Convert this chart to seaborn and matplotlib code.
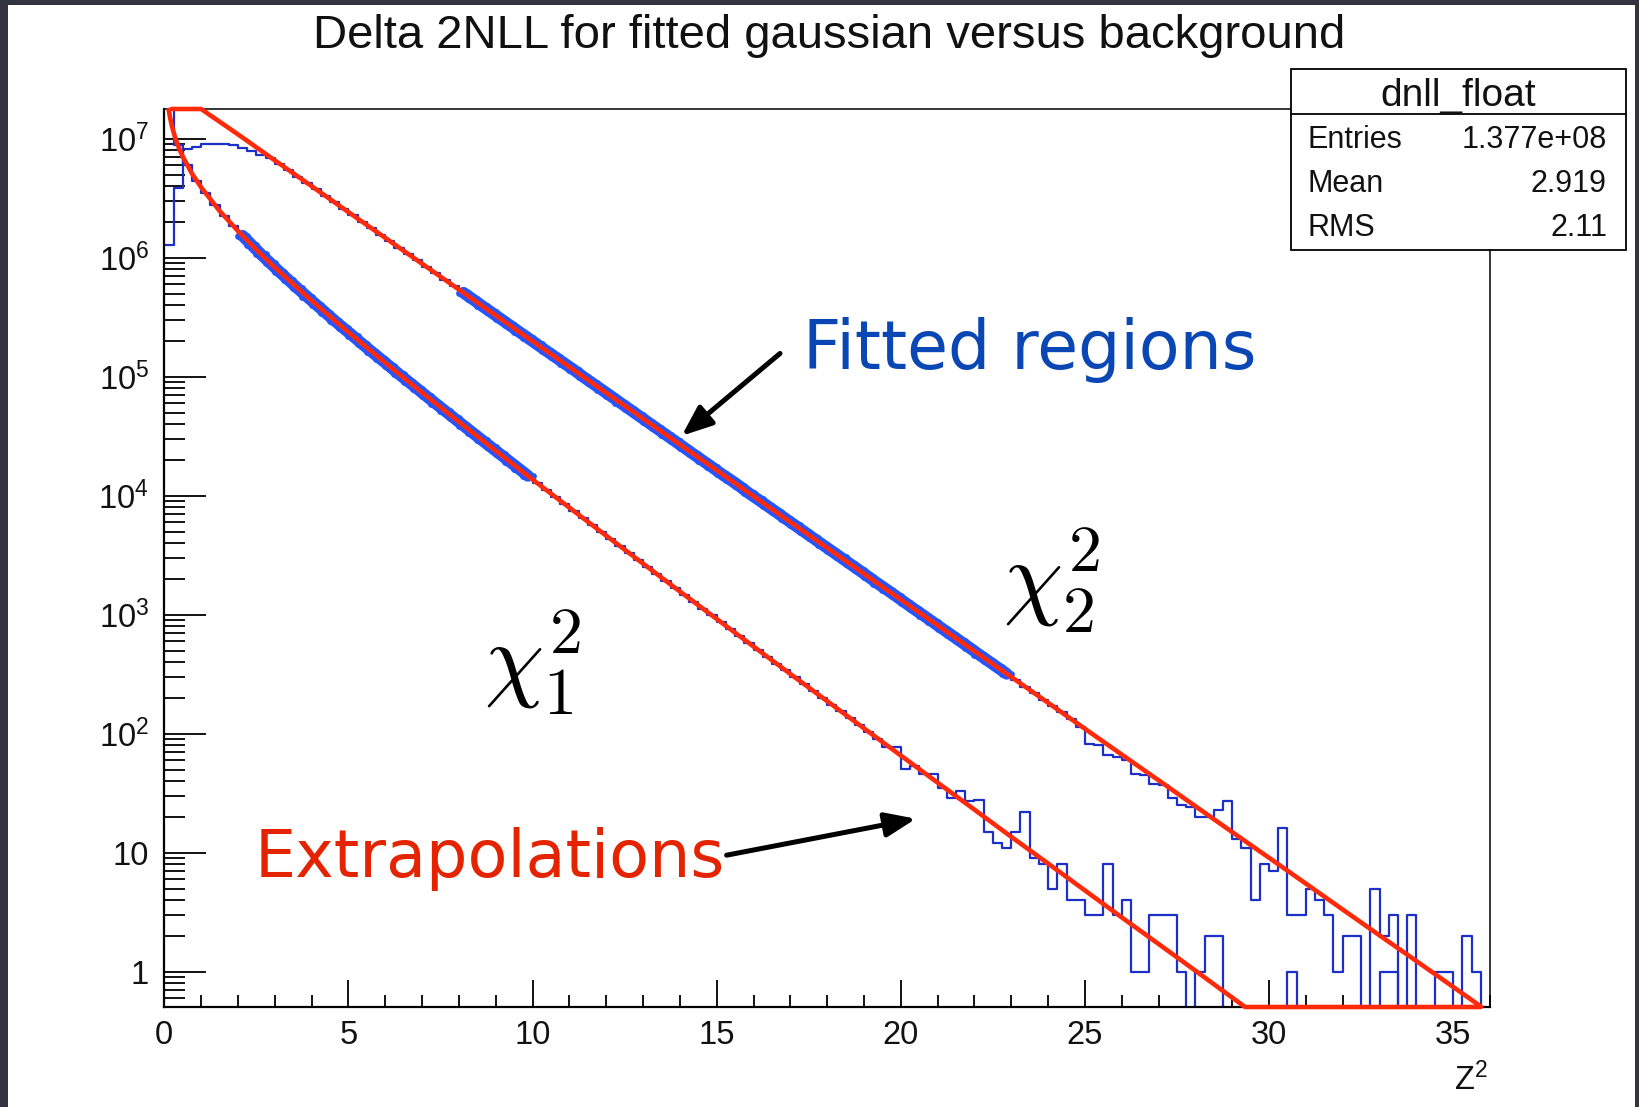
import numpy as np
import pandas as pd
import matplotlib
matplotlib.use("Agg")
import matplotlib.pyplot as plt
from matplotlib.patches import Rectangle
from matplotlib.lines import Line2D
from matplotlib.ticker import (MultipleLocator, LogLocator, FixedLocator,
                               FuncFormatter, NullFormatter)
import seaborn as sns

# ---------------------------------------------------------------- data
# histogram binning: 144 bins over [0, 36]
bin_edges = np.linspace(0.0, 36.0, 145)

# delta-2NLL with floating gaussian (upper distribution), counts per bin
upper_counts = [
    1.29e6, 3.89e6, 8.13e6, 8.61e6, 9.02e6, 9.10e6, 9.05e6, 8.95e6, 8.32e6, 7.83e6,
    7.35e6, 6.92e6, 6.19e6, 5.46e6, 4.82e6, 4.26e6, 3.75e6, 3.31e6, 2.92e6, 2.58e6,
    2.28e6, 2.01e6, 1.77e6, 1.56e6, 1.38e6, 1.22e6, 1.08e6, 9.49e5, 8.37e5, 7.40e5,
    6.53e5, 5.75e5, 5.08e5, 4.49e5, 3.95e5, 3.49e5, 3.08e5, 2.72e5, 2.40e5, 2.12e5,
    1.87e5, 1.65e5, 1.46e5, 1.29e5, 1.14e5, 1.00e5, 8.83e4, 7.80e4, 6.89e4, 6.07e4,
    5.36e4, 4.73e4, 4.17e4, 3.68e4, 3.25e4, 2.87e4, 2.53e4, 2.23e4, 1.97e4, 1.74e4,
    1.53e4, 1.36e4, 1.20e4, 1.05e4, 9310, 8220, 7260, 6400, 5650, 4990,
    4400, 3880, 3430, 3030, 2670, 2360, 2080, 1830, 1620, 1430,
    1260, 1110, 982, 867, 764, 675, 596, 526, 463, 409,
    361, 319, 281, 248, 219, 193, 171, 151, 133, 114,
    82, 80, 66, 64, 60, 46, 45, 38, 37, 29,
    25, 24, 20, 20, 23, 27, 13, 11, 4, 8,
    7, 16, 3, 3, 5, 4, 3, 1, 2, 2,
    0, 5, 2, 3, 0, 3, 0, 0, 1, 1,
    0, 2, 1, 0,
]

# delta-2NLL with fixed gaussian (lower distribution), counts per bin
lower_counts = [
    2.40e7, 8.85e6, 5.98e6, 4.46e6, 3.47e6, 2.77e6, 2.24e6, 1.84e6, 1.53e6, 1.28e6,
    1.07e6, 9.04e5, 7.64e5, 6.49e5, 5.52e5, 4.72e5, 4.04e5, 3.46e5, 2.96e5, 2.55e5,
    2.20e5, 1.89e5, 1.63e5, 1.41e5, 1.22e5, 1.05e5, 9.12e4, 7.91e4, 6.85e4, 5.94e4,
    5.16e4, 4.48e4, 3.89e4, 3.38e4, 2.94e4, 2.56e4, 2.23e4, 1.94e4, 1.69e4, 1.47e4,
    1.28e4, 1.12e4, 9750, 8510, 7430, 6490, 5660, 4940, 4320, 3770,
    3300, 2880, 2520, 2200, 1920, 1680, 1470, 1290, 1120, 986,
    863, 755, 661, 578, 507, 444, 388, 340, 298, 261,
    229, 200, 176, 154, 135, 118, 104, 91, 77, 77,
    51, 54, 46, 46, 35, 29, 33, 27, 28, 15,
    12, 11, 15, 22, 9, 8, 5, 8, 4, 4,
    3, 3, 8, 3, 4, 1, 1, 3, 3, 3,
    1, 0, 1, 2, 2, 0, 0, 0, 0, 0,
    0, 0, 1, 0, 0, 0, 0, 0, 0, 0,
    0, 0, 1, 1, 0, 0, 0, 0, 0, 0,
    0, 0, 0, 0,
]

# ranges used for the fits
upper_fit_range = (8.0, 23.0)
lower_fit_range = (2.0, 10.0)

# fitted chi2(2 dof) curve over the upper distribution
upper_fit_x = [0.2, 1, 2, 3, 4, 5, 6, 7, 8, 9, 10, 11, 12, 13, 14, 15, 16, 17, 18,
               19, 20, 21, 22, 23, 24, 25, 26, 27, 28, 29, 30, 31, 32, 33, 34, 35, 35.75]
upper_fit_y = [2.67e7, 1.79e7, 1.09e7, 6.59e6, 4.00e6, 2.42e6, 1.47e6, 8.91e5, 5.41e5,
               3.28e5, 1.99e5, 1.21e5, 7.33e4, 4.45e4, 2.70e4, 1.64e4, 9910, 6010, 3650,
               2210, 1340, 815, 494, 300, 182, 110, 66.8, 40.6, 24.6, 14.9, 9.06, 5.50,
               3.33, 2.02, 1.23, 0.745, 0.51]

# fitted chi2(1 dof) curve over the lower distribution
lower_fit_x = [0.12, 0.15, 0.2, 0.3, 0.4, 0.5, 0.75, 1, 1.5, 2, 2.5, 3,
               4, 5, 6, 7, 8, 9, 10, 11, 12, 13, 14, 15, 16, 17, 18, 19, 20, 21,
               22, 23, 24, 25, 26, 27, 28, 29, 29.35, 30, 32, 34, 35.75]
lower_fit_y = [1.75e7, 1.54e7, 1.30e7, 1.01e7, 8.34e6, 7.10e6, 5.11e6, 3.91e6, 2.48e6,
               1.68e6, 1.17e6, 8.30e5,
               4.36e5, 2.37e5, 1.31e5, 7.36e4, 4.18e4, 2.39e4, 1.37e4, 7940, 4620, 2690,
               1570, 922, 541, 318, 188, 111, 65.6, 38.8, 23.0, 13.6, 8.11, 4.82, 2.86,
               1.71, 1.02, 0.605, 0.505, 0.36, 0.13, 0.05, 0.02]

# statistics box entries
stats_name = "dnll_float"
stats_rows = [("Entries", "1.377e+08"), ("Mean", "2.919"), ("RMS", "2.11")]

title = "Delta 2NLL for fitted gaussian versus background"
y_decades = [1, 1e1, 1e2, 1e3, 1e4, 1e5, 1e6, 1e7]

# ---------------------------------------------------------------- style
W, H = 1639, 1107
Y_MIN, Y_MAX = 0.505, 1.78e7
HIST_BLUE = "#1c2fc8"
BAND_BLUE = "#2356ff"
FIT_RED = "#ff2a0a"
SLIDE_GRAY = "#32353f"

sns.set_style("ticks")
plt.rcParams["font.family"] = ["Liberation Sans", "DejaVu Sans"]
plt.rcParams["mathtext.fontset"] = "custom"
plt.rcParams["mathtext.rm"] = "Liberation Sans"
plt.rcParams["mathtext.it"] = "Liberation Sans:italic"
plt.rcParams["mathtext.bf"] = "Liberation Sans:bold"

fig = plt.figure(figsize=(W / 100, H / 100), dpi=100, facecolor=SLIDE_GRAY)
# white canvas inside the dark slide border
fig.add_artist(Rectangle((8 / W, 0), (1635 - 8) / W, (H - 5) / H,
                         transform=fig.transFigure, facecolor="white",
                         edgecolor="none", zorder=-5))

ax = fig.add_axes([164.3 / W, 1 - 1007 / H, (1490 - 164.3) / W, (1007 - 109) / H])
ax.set_facecolor("white")

centers = 0.5 * (bin_edges[:-1] + bin_edges[1:])
hist_df = pd.DataFrame({
    "z2": centers,
    "upper": np.asarray(upper_counts, dtype=float),
    "lower": np.asarray(lower_counts, dtype=float),
})

# full histograms, thin outline
for col in ("upper", "lower"):
    sns.histplot(data=hist_df, x="z2", weights=col, bins=list(bin_edges),
                 element="step", fill=False, color=HIST_BLUE, linewidth=1.6, ax=ax)

# fitted ranges drawn as a heavy band
for col, (lo, hi) in (("upper", upper_fit_range), ("lower", lower_fit_range)):
    part = hist_df[(hist_df["z2"] > lo) & (hist_df["z2"] < hi)]
    edges = [e for e in bin_edges if lo - 1e-9 <= e <= hi + 1e-9]
    sns.histplot(data=part, x="z2", weights=col, bins=edges, element="poly",
                 fill=False, color=BAND_BLUE, linewidth=8.5, ax=ax)
    sns.histplot(data=part, x="z2", weights=col, bins=edges, element="step",
                 fill=False, color=BAND_BLUE, linewidth=5.0, ax=ax)

# fit curves, pinned to the frame where they leave the plotted range
for fx, fy in ((upper_fit_x, upper_fit_y), (lower_fit_x, lower_fit_y)):
    sns.lineplot(x=fx, y=np.clip(np.asarray(fy, dtype=float), Y_MIN, Y_MAX),
                 color=FIT_RED, linewidth=3.3, sort=False, estimator=None,
                 legend=False, ax=ax, clip_on=False, zorder=6)

ax.set_yscale("log")
ax.set_xlim(0, 36)
ax.set_ylim(Y_MIN, Y_MAX)
ax.set_xlabel("")
ax.set_ylabel("")

ax.xaxis.set_major_locator(MultipleLocator(5))
ax.xaxis.set_minor_locator(MultipleLocator(1))
ax.yaxis.set_major_locator(FixedLocator(y_decades))
ax.yaxis.set_minor_locator(LogLocator(base=10, subs=np.arange(2, 10), numticks=200))
ax.yaxis.set_minor_formatter(NullFormatter())


def decade_label(v, pos):
    if v < 1.5:
        return "1"
    if v < 15:
        return "10"
    return r"$\mathdefault{10^{%d}}$" % int(round(np.log10(v)))


ax.yaxis.set_major_formatter(FuncFormatter(decade_label))

ax.tick_params(axis="both", which="both", direction="in", top=False, right=False,
               width=1.3, color="black", labelcolor="#111111")
ax.tick_params(axis="x", which="major", length=19.5, pad=9, labelsize=23.5)
ax.tick_params(axis="x", which="minor", length=8.7)
ax.tick_params(axis="y", which="major", length=30, pad=11, labelsize=23.5)
ax.tick_params(axis="y", which="minor", length=15)

for side in ("left", "bottom"):
    ax.spines[side].set_linewidth(1.6)
for side in ("top", "right"):
    ax.spines[side].set_linewidth(1.1)
for sp in ax.spines.values():
    sp.set_color("black")

ax.text(0.9985, (1007 - 1090) / (1007 - 109), r"$\mathdefault{Z^{2}}$",
        transform=ax.transAxes, ha="right", va="baseline", fontsize=23.5,
        color="#111111")

# title
fig.text(829 / W, 1 - 48.5 / H, title, ha="center", va="baseline",
         fontsize=34, color="#111111")

# statistics box
box_l, box_r, box_t, box_b, box_mid = 1291, 1626, 69, 250, 114
fig.add_artist(Rectangle((box_l / W, 1 - box_b / H), (box_r - box_l) / W,
                         (box_b - box_t) / H, transform=fig.transFigure,
                         facecolor="white", edgecolor="black", linewidth=1.3,
                         zorder=10))
fig.add_artist(Line2D([box_l / W, box_r / W], [1 - box_mid / H] * 2,
                      transform=fig.transFigure, color="black", linewidth=1.3,
                      zorder=11))
fig.text((box_l + box_r) / 2 / W, 1 - 106 / H, stats_name, ha="center",
         va="baseline", fontsize=28, color="#111111", zorder=12)
for i, (name, value) in enumerate(stats_rows):
    yb = 1 - (147.5 + 44.0 * i) / H
    fig.text(1307 / W, yb, name, ha="left", va="baseline", fontsize=22,
             color="#111111", zorder=12)
    fig.text(1607 / W, yb, value, ha="right", va="baseline", fontsize=22,
             color="#111111", zorder=12)

# distribution labels
ax.text(24.1, 1.93e3, r"$\chi^2_2$", math_fontfamily="cm", fontsize=68,
        ha="center", va="center", color="black")
ax.text(10.0, 3.96e2, r"$\chi^2_1$", math_fontfamily="cm", fontsize=68,
        ha="center", va="center", color="black")

# call-outs
arrow_kw = dict(arrowstyle="-|>,head_length=0.5,head_width=0.2", color="black",
                lw=3.6, mutation_scale=37, shrinkA=0, shrinkB=0)
ax.text(17.35, 1.16e5, "Fitted regions", family=["DejaVu Sans"], fontsize=48,
        color="#0a46b4", ha="left", va="baseline")
ax.annotate("", xy=(14.05, 3.19e4), xytext=(16.72, 1.57e5),
            arrowprops=arrow_kw)
ax.text(2.46, 6.2, "Extrapolations", family=["DejaVu Sans"], fontsize=47,
        color="#e42300", ha="left", va="baseline")
ax.annotate("", xy=(20.41, 19.3), xytext=(15.27, 9.53),
            arrowprops=arrow_kw)

fig.savefig("out.png", dpi=100, facecolor=fig.get_facecolor())
